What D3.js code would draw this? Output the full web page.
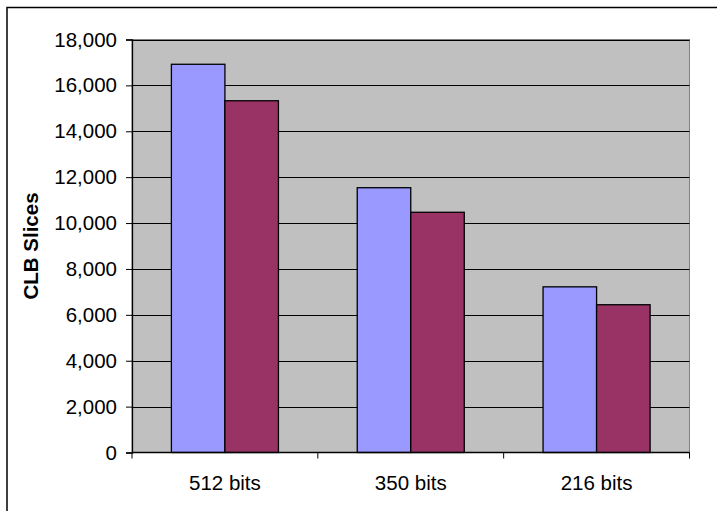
<!DOCTYPE html>
<html>
<head>
<meta charset="utf-8">
<script src="https://cdn.jsdelivr.net/npm/d3@7"></script>
<style>
  html, body { margin: 0; padding: 0; background: #fff; }
  svg { display: block; font-family: "Liberation Sans", Arial, sans-serif; }
</style>
</head>
<body>
<svg id="chart" width="717" height="511"></svg>
<script>
// CLB slice usage per key size, two implementations
const categories = ["512 bits", "350 bits", "216 bits"];
const seriesA = [16920, 11540, 7220];
const seriesB = [15330, 10470, 6440];
const yTicks = [0, 2000, 4000, 6000, 8000, 10000, 12000, 14000, 16000, 18000];
const seriesColors = ["#9999FF", "#993366"];

const svg = d3.select("#chart");
const W = 717, H = 511;
const plot = { left: 132, right: 689.5, top: 39.5, bottom: 452.5 };
const fontSize = 20.5;

// outer chart border (runs off the right and bottom edges)
svg.append("rect")
  .attr("x", 7).attr("y", 7.5)
  .attr("width", W).attr("height", H)
  .attr("fill", "#fff").attr("stroke", "#000").attr("stroke-width", 1.5);

const x0 = d3.scaleBand().domain(categories).range([plot.left, plot.right])
  .paddingInner(0.424).paddingOuter(0.212);
const x1 = d3.scaleBand().domain([0, 1]).range([0, x0.bandwidth()]);
const y = d3.scaleLinear().domain([0, 18000]).range([plot.bottom, plot.top]);

// plot area
svg.append("rect")
  .attr("x", plot.left).attr("y", plot.top)
  .attr("width", plot.right - plot.left).attr("height", plot.bottom - plot.top)
  .attr("fill", "#C0C0C0").attr("stroke", "#808080").attr("stroke-width", 1);

// horizontal gridlines
svg.append("g").selectAll("line")
  .data(yTicks.filter(d => d > 0))
  .join("line")
  .attr("x1", plot.left).attr("x2", plot.right)
  .attr("y1", d => Math.round(y(d)) + 0.5).attr("y2", d => Math.round(y(d)) + 0.5)
  .attr("stroke", "#000").attr("stroke-width", 1);

// bars
const rows = categories.map((c, i) => ({ c, v: [seriesA[i], seriesB[i]] }));
const groups = svg.append("g").selectAll("g")
  .data(rows).join("g")
  .attr("transform", d => `translate(${x0(d.c)},0)`);
groups.selectAll("rect")
  .data(d => d.v.map((v, k) => ({ v, k })))
  .join("rect")
  .attr("x", d => x1(d.k))
  .attr("y", d => y(d.v))
  .attr("width", x1.bandwidth())
  .attr("height", d => y(0) - y(d.v))
  .attr("fill", d => seriesColors[d.k])
  .attr("stroke", "#000").attr("stroke-width", 1.3);

// y axis
const yAxis = svg.append("g")
  .attr("transform", `translate(${plot.left},0)`)
  .call(d3.axisLeft(y).tickValues(yTicks).tickSize(6).tickPadding(9)
    .tickFormat(d3.format(",")));
yAxis.select(".domain").attr("stroke", "#000").attr("stroke-width", 1.3);
yAxis.selectAll(".tick line").attr("stroke", "#000");
yAxis.selectAll("text").attr("font-size", fontSize).attr("fill", "#000")
  .attr("font-family", "Liberation Sans, Arial, sans-serif");

// x axis with ticks on category boundaries
const xAxis = svg.append("g")
  .attr("transform", `translate(0,${plot.bottom})`);
xAxis.append("line")
  .attr("x1", plot.left).attr("x2", plot.right)
  .attr("stroke", "#000").attr("stroke-width", 1.3);
const step = x0.step();
const bounds = d3.range(categories.length + 1).map(i => plot.left + i * step);
xAxis.selectAll("line.tk").data(bounds).join("line")
  .attr("class", "tk")
  .attr("x1", d => d).attr("x2", d => d)
  .attr("y1", 0).attr("y2", 6)
  .attr("stroke", "#000");
xAxis.selectAll("text").data(categories).join("text")
  .attr("x", d => x0(d) + x0.bandwidth() / 2)
  .attr("y", 37)
  .attr("text-anchor", "middle")
  .attr("font-size", fontSize)
  .attr("fill", "#000")
  .text(d => d);

// y axis title
svg.append("text")
  .attr("transform", `translate(38,${(plot.top + plot.bottom) / 2}) rotate(-90)`)
  .attr("text-anchor", "middle")
  .attr("font-size", fontSize)
  .attr("font-weight", "bold")
  .attr("fill", "#000")
  .text("CLB Slices");
</script>
</body>
</html>
